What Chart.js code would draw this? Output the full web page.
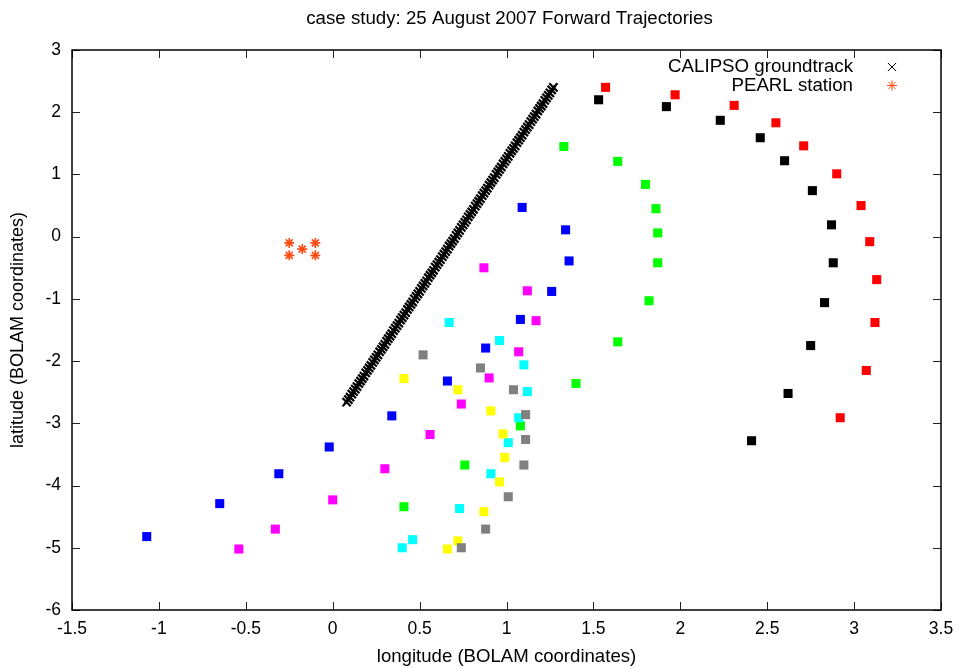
<!DOCTYPE html>
<html>
<head>
<meta charset="utf-8">
<title>Forward Trajectories</title>
<script src="https://cdn.jsdelivr.net/npm/chart.js@4.4.1/dist/chart.umd.min.js"></script>
<style>
    html, body { margin: 0; padding: 0; background: #fff; }
    #wrap { width: 959px; height: 668px; }
</style>
</head>
<body>
<div id="wrap"><canvas id="ChartTray" width="959" height="668"></canvas></div>
<script>

// axis ticks
const TicksLon = [-1.5, -1, -0.5, 0, 0.5, 1, 1.5, 2, 2.5, 3, 3.5];
const TicksLat = [-6, -5, -4, -3, -2, -1, 0, 1, 2, 3];

// CALIPSO groundtrack
const TrackLon = [
    0.08, 0.09, 0.10, 0.11, 0.12, 0.13, 0.14, 0.15, 0.16, 0.17,
    0.18, 0.19, 0.20, 0.21, 0.22, 0.23, 0.24, 0.25, 0.26, 0.27,
    0.28, 0.29, 0.30, 0.31, 0.32, 0.33, 0.34, 0.35, 0.36, 0.37,
    0.38, 0.39, 0.40, 0.41, 0.42, 0.43, 0.44, 0.45, 0.46, 0.47,
    0.48, 0.49, 0.50, 0.51, 0.52, 0.53, 0.54, 0.55, 0.56, 0.57,
    0.58, 0.59, 0.60, 0.61, 0.62, 0.63, 0.64, 0.65, 0.66, 0.67,
    0.68, 0.69, 0.70, 0.71, 0.72, 0.73, 0.74, 0.75, 0.76, 0.77,
    0.78, 0.79, 0.80, 0.81, 0.82, 0.83, 0.84, 0.85, 0.86, 0.87,
    0.88, 0.89, 0.90, 0.91, 0.92, 0.93, 0.94, 0.95, 0.96, 0.97,
    0.98, 0.99, 1.00, 1.01, 1.02, 1.03, 1.04, 1.05, 1.06, 1.07,
    1.08, 1.09, 1.10, 1.11, 1.12, 1.13, 1.14, 1.15, 1.16, 1.17,
    1.18, 1.19, 1.20, 1.21, 1.22, 1.23, 1.24, 1.25, 1.26, 1.27
];
const TrackLat = [
    -2.66, -2.62, -2.58, -2.53, -2.49, -2.45, -2.41, -2.36, -2.32, -2.28,
    -2.24, -2.19, -2.15, -2.11, -2.07, -2.02, -1.98, -1.94, -1.90, -1.85,
    -1.81, -1.77, -1.73, -1.68, -1.64, -1.60, -1.56, -1.51, -1.47, -1.43,
    -1.39, -1.34, -1.30, -1.26, -1.22, -1.17, -1.13, -1.09, -1.05, -1.00,
    -0.96, -0.92, -0.88, -0.83, -0.79, -0.75, -0.71, -0.66, -0.62, -0.58,
    -0.54, -0.49, -0.45, -0.41, -0.37, -0.32, -0.28, -0.24, -0.20, -0.15,
    -0.11, -0.07, -0.03, 0.02, 0.06, 0.10, 0.15, 0.19, 0.23, 0.27,
    0.32, 0.36, 0.40, 0.44, 0.49, 0.53, 0.57, 0.61, 0.66, 0.70,
    0.74, 0.78, 0.83, 0.87, 0.91, 0.95, 1.00, 1.04, 1.08, 1.12,
    1.17, 1.21, 1.25, 1.29, 1.34, 1.38, 1.42, 1.46, 1.51, 1.55,
    1.59, 1.63, 1.68, 1.72, 1.76, 1.80, 1.85, 1.89, 1.93, 1.97,
    2.02, 2.06, 2.10, 2.14, 2.19, 2.23, 2.27, 2.31, 2.36, 2.40
];

// PEARL station
const PearlLon = [-0.25, -0.10, -0.175, -0.25, -0.10];
const PearlLat = [-0.10, -0.10, -0.20, -0.30, -0.30];

// trajectories
const TrajRedLon = [1.57, 1.97, 2.31, 2.55, 2.71, 2.90, 3.04, 3.09, 3.13, 3.12, 3.07, 2.92];
const TrajRedLat = [2.40, 2.28, 2.11, 1.83, 1.46, 1.01, 0.50, -0.08, -0.69, -1.38, -2.15, -2.91];

const TrajBlackLon = [1.53, 1.92, 2.23, 2.46, 2.60, 2.76, 2.87, 2.88, 2.83, 2.75, 2.62, 2.41];
const TrajBlackLat = [2.20, 2.09, 1.87, 1.59, 1.22, 0.74, 0.19, -0.42, -1.06, -1.75, -2.52, -3.28];

const TrajGreenLon = [1.33, 1.64, 1.80, 1.86, 1.87, 1.87, 1.82, 1.64, 1.40, 1.08, 0.76, 0.41];
const TrajGreenLat = [1.45, 1.21, 0.84, 0.45, 0.06, -0.42, -1.03, -1.69, -2.36, -3.04, -3.67, -4.34];

const TrajBlueLon = [1.09, 1.34, 1.36, 1.26, 1.08, 0.88, 0.66, 0.34, -0.02, -0.31, -0.65, -1.07];
const TrajBlueLat = [0.47, 0.11, -0.39, -0.88, -1.33, -1.79, -2.32, -2.88, -3.38, -3.81, -4.29, -4.82];

const TrajMagentaLon = [0.87, 1.12, 1.17, 1.07, 0.90, 0.74, 0.56, 0.30, 0.00, -0.33, -0.54];
const TrajMagentaLat = [-0.50, -0.87, -1.35, -1.85, -2.27, -2.69, -3.18, -3.73, -4.23, -4.70, -5.02];

const TrajCyanLon = [0.67, 0.96, 1.10, 1.12, 1.07, 1.01, 0.91, 0.73, 0.46, 0.40];
const TrajCyanLat = [-1.38, -1.67, -2.06, -2.49, -2.91, -3.31, -3.81, -4.37, -4.87, -5.00];

const TrajGrayLon = [0.52, 0.85, 1.04, 1.11, 1.11, 1.10, 1.01, 0.88, 0.74];
const TrajGrayLat = [-1.90, -2.11, -2.46, -2.86, -3.26, -3.67, -4.18, -4.70, -5.00];

const TrajYellowLon = [0.41, 0.72, 0.91, 0.98, 0.99, 0.96, 0.87, 0.72, 0.66];
const TrajYellowLat = [-2.28, -2.46, -2.80, -3.17, -3.55, -3.94, -4.42, -4.89, -5.02];


const Puntos = (Lon, Lat) => Lon.map((x, i) => ({ x: x, y: Lat[i] }));

const Fuente = "'Liberation Sans', Arial, Helvetica, sans-serif";

const DatasetTray = (Lon, Lat, Color) => ({
    label: '',
    data: Puntos(Lon, Lat),
    pointStyle: 'rect',
    pointRadius: 6.4,
    pointBorderWidth: 0,
    backgroundColor: Color,
    borderColor: Color,
    showLine: false
});

// frame, inward ticks, title and key
const MarcoGnuplot = {
    id: 'marcoGnuplot',
    beforeDatasetsDraw(chart) {
        const ctx = chart.ctx;
        const a = chart.chartArea;
        const sx = chart.scales.x;
        const sy = chart.scales.y;
        const L = 8;

        ctx.save();
        ctx.strokeStyle = '#222';
        ctx.lineWidth = 1;
        ctx.beginPath();
        TicksLon.forEach(v => {
            const px = Math.round(sx.getPixelForValue(v)) + 0.5;
            ctx.moveTo(px, a.bottom); ctx.lineTo(px, a.bottom - L);
            ctx.moveTo(px, a.top); ctx.lineTo(px, a.top + L);
        });
        TicksLat.forEach(v => {
            const py = Math.round(sy.getPixelForValue(v)) + 0.5;
            ctx.moveTo(a.left, py); ctx.lineTo(a.left + L, py);
            ctx.moveTo(a.right, py); ctx.lineTo(a.right - L, py);
        });
        ctx.stroke();

        ctx.strokeStyle = '#000';
        ctx.lineWidth = 1.5;
        ctx.strokeRect(a.left, a.top, a.right - a.left, a.bottom - a.top);
        ctx.restore();
    },
    afterDraw(chart) {
        const ctx = chart.ctx;
        const a = chart.chartArea;

        ctx.save();
        ctx.fillStyle = '#000';
        ctx.font = '18.7px ' + Fuente;
        ctx.textAlign = 'center';
        ctx.textBaseline = 'middle';
        ctx.fillText('case study: 25 August 2007 Forward Trajectories', (a.left + a.right) / 2 + 3, 19);

        // key, text right aligned with the symbol after it
        const Items = [chart.data.datasets[0], chart.data.datasets[1]];
        Items.forEach((ds, i) => {
            const y = 67 + i * 18.5;
            ctx.fillStyle = '#000';
            ctx.textAlign = 'right';
            ctx.fillText(ds.label, a.right - 88, y);
            ctx.strokeStyle = ds.borderColor;
            ctx.fillStyle = ds.borderColor;
            Chart.helpers.drawPoint(ctx, {
                pointStyle: ds.pointStyle,
                radius: ds.pointRadius,
                borderWidth: i === 0 ? 1 : ds.pointBorderWidth,
                rotation: 0
            }, a.right - 49, y);
        });
        ctx.restore();
    }
};

Chart.defaults.color = '#000';
Chart.defaults.font.family = Fuente;

const ctxTray = document.getElementById('ChartTray');
const ChartTray = new Chart(ctxTray, {
    type: 'scatter',
    data: {
        datasets: [{
            label: 'CALIPSO groundtrack',
            data: Puntos(TrackLon, TrackLat),
            pointStyle: 'crossRot',
            pointRadius: 5.8,
            pointBorderWidth: 2.2,
            borderColor: '#000',
            backgroundColor: '#000'
        }, {
            label: 'PEARL station',
            data: Puntos(PearlLon, PearlLat),
            pointStyle: 'star',
            pointRadius: 5,
            pointBorderWidth: 1.6,
            borderColor: '#ff4a12',
            backgroundColor: '#ff4a12'
        },
        DatasetTray(TrajGrayLon, TrajGrayLat, '#808080'),
        DatasetTray(TrajYellowLon, TrajYellowLat, '#ffff00'),
        DatasetTray(TrajCyanLon, TrajCyanLat, '#00ffff'),
        DatasetTray(TrajMagentaLon, TrajMagentaLat, '#ff00ff'),
        DatasetTray(TrajBlueLon, TrajBlueLat, '#0000ff'),
        DatasetTray(TrajGreenLon, TrajGreenLat, '#00ff00'),
        DatasetTray(TrajBlackLon, TrajBlackLat, '#000000'),
        DatasetTray(TrajRedLon, TrajRedLat, '#ff0000')
        ]
    },
    options: {
        responsive: false,
        animation: false,
        events: [],
        layout: {
            padding: { top: 50, right: 18, bottom: 0, left: 0 }
        },
        plugins: {
            legend: { display: false },
            tooltip: { enabled: false },
            title: { display: false }
        },
        scales: {
            x: {
                type: 'linear',
                min: -1.5,
                max: 3.5,
                afterFit: s => {
                    s.height = 58;
                    s.paddingLeft = 0;
                    s.paddingRight = 0;
                },
                afterBuildTicks: s => { s.ticks = TicksLon.map(v => ({ value: v })); },
                grid: { display: false, drawTicks: false },
                border: { display: false },
                ticks: {
                    padding: 9,
                    font: { size: 17.5 },
                    maxRotation: 0,
                    callback: v => String(v)
                },
                title: {
                    display: true,
                    text: 'longitude (BOLAM coordinates)',
                    font: { size: 18.6 },
                    padding: { top: 0, bottom: 0 }
                }
            },
            y: {
                type: 'linear',
                min: -6,
                max: 3,
                afterFit: s => {
                    s.width = 72;
                    s.paddingTop = 0;
                    s.paddingBottom = 0;
                },
                afterBuildTicks: s => { s.ticks = TicksLat.map(v => ({ value: v })); },
                grid: { display: false, drawTicks: false },
                border: { display: false },
                ticks: {
                    padding: 11,
                    font: { size: 17.5 },
                    callback: v => String(v)
                },
                title: {
                    display: true,
                    text: 'latitude (BOLAM coordinates)',
                    font: { size: 18 },
                    padding: { top: 7, bottom: 0 }
                }
            }
        }
    },
    plugins: [MarcoGnuplot]
});

</script>
</body>
</html>
